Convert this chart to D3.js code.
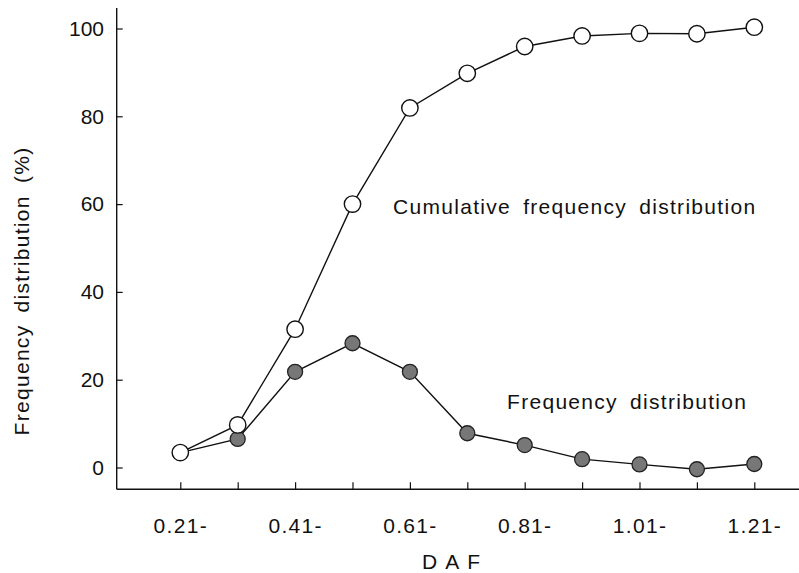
<!DOCTYPE html>
<html>
<head>
<meta charset="utf-8">
<script src="https://cdn.jsdelivr.net/npm/d3@7"></script>
<style>
  html, body { margin: 0; padding: 0; background: #fff; }
  svg { display: block; }
  text { font-family: "Liberation Sans", Arial, Helvetica, sans-serif; fill: #111; }
</style>
</head>
<body>
<svg id="chart" width="799" height="573"></svg>
<script>
// ---- data ----
const categories = ["0.21-", "0.31-", "0.41-", "0.51-", "0.61-", "0.71-", "0.81-", "0.91-", "1.01-", "1.11-", "1.21-"];
const frequency  = [3.4, 6.5, 21.8, 28.3, 21.8, 7.8, 5.1, 1.9, 0.7, -0.4, 0.8];
const cumulative = [3.4, 9.7, 31.5, 60.0, 81.9, 89.8, 95.9, 98.3, 98.9, 98.8, 100.3];
const yTicks = [0, 20, 40, 60, 80, 100];
const xLabelled = ["0.21-", "0.41-", "0.61-", "0.81-", "1.01-", "1.21-"];

const svg = d3.select("#chart");
const axisX = 116.7, axisY = 489.3;
const FS = 21;

const x = d3.scalePoint().domain(categories).range([180.3, 754.3]).padding(0);
const y = d3.scaleLinear().domain([0, 100]).range([467.5, 28.5]);

// axis lines
svg.append("line").attr("x1", axisX).attr("x2", axisX).attr("y1", 8).attr("y2", axisY)
  .attr("stroke", "#111").attr("stroke-width", 1.4);
svg.append("line").attr("x1", axisX).attr("x2", 799).attr("y1", axisY).attr("y2", axisY)
  .attr("stroke", "#111").attr("stroke-width", 1.4);

// y axis ticks
const gy = svg.append("g").attr("transform", `translate(${axisX},0)`)
  .call(d3.axisLeft(y).tickValues(yTicks).tickSize(-6).tickPadding(12.7));
gy.select(".domain").remove();
gy.selectAll(".tick line").attr("stroke", "#111").attr("stroke-width", 1.2);
gy.selectAll(".tick text").attr("font-size", FS)
  .attr("font-family", "Liberation Sans, Arial, sans-serif").attr("fill", "#111");

// x axis ticks
const gx = svg.append("g").attr("transform", `translate(0,${axisY})`)
  .call(d3.axisBottom(x).tickSize(-7).tickPadding(28.5)
    .tickFormat(d => xLabelled.includes(d) ? d : ""));
gx.select(".domain").remove();
gx.selectAll(".tick line").attr("stroke", "#111").attr("stroke-width", 1.2);
gx.selectAll(".tick text").attr("font-size", FS).style("letter-spacing", "1.3px")
  .attr("font-family", "Liberation Sans, Arial, sans-serif").attr("fill", "#111");

// axis titles
svg.append("text").attr("x", 455).attr("y", 569).attr("text-anchor", "middle")
  .attr("font-size", FS).style("letter-spacing", "8px").text("DAF");
svg.append("text").attr("transform", "translate(29,291) rotate(-90)")
  .attr("text-anchor", "middle").attr("font-size", FS)
  .style("letter-spacing", "1.3px").style("word-spacing", "5px")
  .text("Frequency distribution (%)");

// lines
const line = d3.line().x((d, i) => x(categories[i])).y(d => y(d));
svg.append("path").datum(frequency).attr("d", line)
  .attr("fill", "none").attr("stroke", "#111").attr("stroke-width", 1.4);
svg.append("path").datum(cumulative).attr("d", line)
  .attr("fill", "none").attr("stroke", "#111").attr("stroke-width", 1.4);

// markers
svg.append("g").selectAll("circle").data(frequency).join("circle")
  .attr("cx", (d, i) => x(categories[i])).attr("cy", d => y(d)).attr("r", 7.5)
  .attr("fill", "#777").attr("stroke", "#222").attr("stroke-width", 1.3);
svg.append("g").selectAll("circle").data(cumulative).join("circle")
  .attr("cx", (d, i) => x(categories[i])).attr("cy", d => y(d)).attr("r", 8.2)
  .attr("fill", "#fff").attr("stroke", "#111").attr("stroke-width", 1.4);

// annotations
svg.append("text").attr("x", 393).attr("y", 214).attr("font-size", FS)
  .style("letter-spacing", "1.3px").style("word-spacing", "5px")
  .text("Cumulative frequency distribution");
svg.append("text").attr("x", 507).attr("y", 409).attr("font-size", FS)
  .style("letter-spacing", "1.3px").style("word-spacing", "5px")
  .text("Frequency distribution");
</script>
</body>
</html>
